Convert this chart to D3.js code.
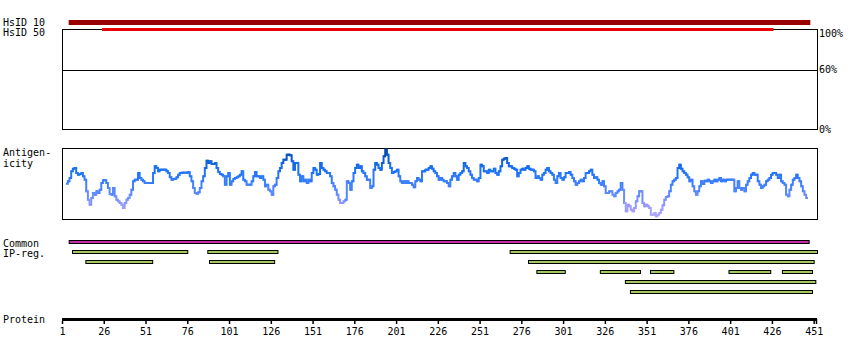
<!DOCTYPE html>
<html>
<head>
<meta charset="utf-8">
<script src="https://cdn.jsdelivr.net/npm/d3@7"></script>
<style>
  body { margin: 0; background: #fff; }
  text { font-family: "DejaVu Sans Mono", monospace; font-size: 10px; fill: #000; }
</style>
</head>
<body>
<script>
// protein length and axis ticks
var proteinLength = 453;
var tickResidues = [1, 26, 51, 76, 101, 126, 151, 176, 201, 226, 251, 276, 301, 326, 351, 376, 401, 426, 451];

// identity hits (start, end residue)
var hsid10 = [5, 449];
var hsid50 = [25, 427];
var percentTicks = [100, 60, 0];

// common / interpro regions
var commonRegions = [[5, 448]];
var ipRegions = [
  [7, 76], [88, 130], [269, 453],
  [15, 55], [89, 128], [280, 451],
  [285, 302], [323, 347], [353, 367], [400, 425], [432, 450],
  [338, 452],
  [341, 450]
];

// antigenicity score per residue, starting at residue 4
var antigenStart = 4;
var antigenicity = [
  109,116,126,146,154,156,141,136,138,141, 131,121,86,61,46,66,81,76,86,81,
  91,111,119,119,111,96,78,76,96,71, 61,56,51,46,36,51,61,66,76,91,
  116,121,121,141,126,121,116,111,111,111, 111,111,141,161,156,146,151,151,151,151,
  146,141,128,121,123,124,128,136,141,142, 142,142,142,143,131,116,96,81,79,83,
  96,116,131,156,178,171,176,168,168,171, 156,144,138,136,131,106,131,141,106,116,
  123,126,128,131,136,146,121,116,106,106, 106,116,131,144,131,131,126,131,121,101,
  106,91,86,76,101,106,126,146,156,171, 181,181,196,196,194,176,151,171,171,136,
  116,131,116,121,111,121,116,
  141,156,151,136,138,171,156,151,146,141, 141,131,111,101,91,76,61,51,51,56,
  61,116,111,91,116,141,156,166,156,161, 146,141,131,121,121,96,101,151,171,166,
  156,151,171,191,211,196,171,156,141,144, 146,151,131,116,111,116,111,116,111,111,
  106,98,116,126,121,116,146,146,151,151, 156,161,154,146,141,131,121,126,121,116,
  116,111,101,121,131,141,131,121,136,141, 146,171,161,156,146,136,126,121,121,116,
  126,166,161,146,146,141,151,146,146,154, 141,136,146,161,181,184,186,171,161,161,
  156,154,151,131,141,151,154,151,156,161, 154,151,151,146,126,131,126,121,136,141,
  151,156,146,141,136,121,111,131,141,
  126,121,128,141,141,144,136,126,116,106, 111,116,121,116,126,141,141,146,151,136,
  126,128,121,111,106,116,101,81,81,86, 86,76,71,81,86,91,111,91,51,26,
  46,41,31,26,36,56,71,86,86,51, 41,46,41,36,16,16,21,11,16,21,
  31,44,61,69,71,86,106,116,121,126, 156,166,154,146,141,136,128,116,121,101,
  86,76,86,101,116,108,118,116,121,116, 111,116,121,116,121,126,116,121,116,121,
  121,121,121,121,86,96,116,96,91,96, 86,106,116,126,136,141,136,136,116,106,
  96,101,106,116,121,126,136,141,141,136, 126,136,116,111,106,76,71,91,106,121,
  126,136,126,116,101,86,76,66
];

var width = 850, height = 360;

var svg = d3.select("body").append("svg")
    .attr("width", width)
    .attr("height", height);

// residue scale shared by every track
var x = d3.scaleLinear()
    .domain([1, proteinLength])
    .range([62, 817]);

// track labels
function label(txt, y) {
  svg.append("text").attr("x", 3).attr("y", y).text(txt);
}
label("HsID 10", 26);
label("HsID 50", 36);
label("Antigen-", 156);
label("icity", 167);
label("Common", 247);
label("IP-reg.", 257);
label("Protein", 323);

// ---- identity track ----
var pct = d3.scaleLinear().domain([0, 100]).range([129.5, 29.5]);

svg.append("rect")
    .attr("x", x(1) + 0.5)
    .attr("y", pct(100))
    .attr("width", x(proteinLength) - x(1))
    .attr("height", pct(0) - pct(100))
    .attr("fill", "none")
    .attr("stroke", "#000");

svg.selectAll(".pctline")
  .data(percentTicks.filter(function(d) { return d > 0 && d < 100; }))
  .enter().append("line")
    .attr("x1", x(1))
    .attr("x2", x(proteinLength))
    .attr("y1", function(d) { return Math.round(pct(d)) + 0.5; })
    .attr("y2", function(d) { return Math.round(pct(d)) + 0.5; })
    .attr("stroke", "#000");

svg.selectAll(".pctlabel")
  .data(percentTicks)
  .enter().append("text")
    .attr("x", x(proteinLength) + 2)
    .attr("y", function(d) { return Math.max(pct(d), pct(100) + 3.5); })
    .attr("dy", "0.35em")
    .text(function(d) { return d + "%"; });

svg.append("rect")
    .attr("x", x(hsid10[0]))
    .attr("y", 20)
    .attr("width", x(hsid10[1]) - x(hsid10[0]))
    .attr("height", 5)
    .attr("fill", "#990000");

svg.append("rect")
    .attr("x", x(hsid50[0]))
    .attr("y", 28)
    .attr("width", x(hsid50[1]) - x(hsid50[0]))
    .attr("height", 3)
    .attr("fill", "#e60000");

// ---- antigenicity track ----
var ag = d3.scaleLinear().domain([0, 216]).range([220, 148]);

svg.append("rect")
    .attr("x", x(1) + 0.5)
    .attr("y", 148.5)
    .attr("width", x(proteinLength) - x(1))
    .attr("height", 71)
    .attr("fill", "none")
    .attr("stroke", "#000");

var agColor = d3.scaleLinear()
    .domain([0, 40, 90, 150, 216])
    .range(["#c0aaf8", "#9a9cff", "#4f86ff", "#1a72f8", "#0044a0"])
    .clamp(true);

var agPoints = antigenicity.map(function(v, i) {
  return { pos: antigenStart + i, value: v };
});

var segLine = d3.line()
    .x(function(d) { return x(d.pos); })
    .y(function(d) { return ag(d.value); })
    .curve(d3.curveStep);

var segs = d3.pairs(agPoints);
svg.append("g").selectAll("path")
  .data(segs)
  .enter().append("path")
    .attr("d", function(d) { return segLine(d); })
    .attr("fill", "none")
    .attr("stroke", function(d) { return agColor((d[0].value + d[1].value) / 2); })
    .attr("stroke-width", 2)
    .attr("stroke-linecap", "square");

// ---- common & IP regions ----
svg.selectAll(".common")
  .data(commonRegions)
  .enter().append("rect")
    .attr("x", function(d) { return x(d[0]) + 0.5; })
    .attr("y", 240.5)
    .attr("width", function(d) { return x(d[1]) - x(d[0]); })
    .attr("height", 3)
    .attr("fill", "#c42ba5")
    .attr("stroke", "#000");

// greedy lane packing
var lanes = [];
var ipPlaced = ipRegions.map(function(r) {
  var lane = 0;
  while (lanes[lane] && lanes[lane].some(function(o) { return r[0] <= o[1] && r[1] >= o[0]; })) lane++;
  if (!lanes[lane]) lanes[lane] = [];
  lanes[lane].push(r);
  return { start: r[0], end: r[1], lane: lane };
});

svg.selectAll(".ip")
  .data(ipPlaced)
  .enter().append("rect")
    .attr("x", function(d) { return x(d.start) + 0.5; })
    .attr("y", function(d) { return 250.5 + d.lane * 10; })
    .attr("width", function(d) { return x(d.end) - x(d.start); })
    .attr("height", 3)
    .attr("fill", "#a2c85e")
    .attr("stroke", "#000");

// ---- protein axis ----
svg.append("line")
    .attr("x1", x(1))
    .attr("x2", x(proteinLength))
    .attr("y1", 319.5)
    .attr("y2", 319.5)
    .attr("stroke", "#000")
    .attr("stroke-width", 3);

var axis = svg.append("g")
    .attr("transform", "translate(0,321)")
    .call(d3.axisBottom(x)
      .tickValues(tickResidues)
      .tickFormat(d3.format("d"))
      .tickSize(3)
      .tickPadding(4));

axis.select(".domain").remove();
axis.selectAll(".tick line").attr("stroke-width", 1.5);
axis.selectAll(".tick text")
    .style("font-family", "'DejaVu Sans Mono', monospace")
    .style("font-size", "10px");

svg.append("line")
    .attr("x1", x(proteinLength) - 0.5)
    .attr("x2", x(proteinLength) - 0.5)
    .attr("y1", 319)
    .attr("y2", 324)
    .attr("stroke", "#000")
    .attr("stroke-width", 1.5);
</script>
</body>
</html>
